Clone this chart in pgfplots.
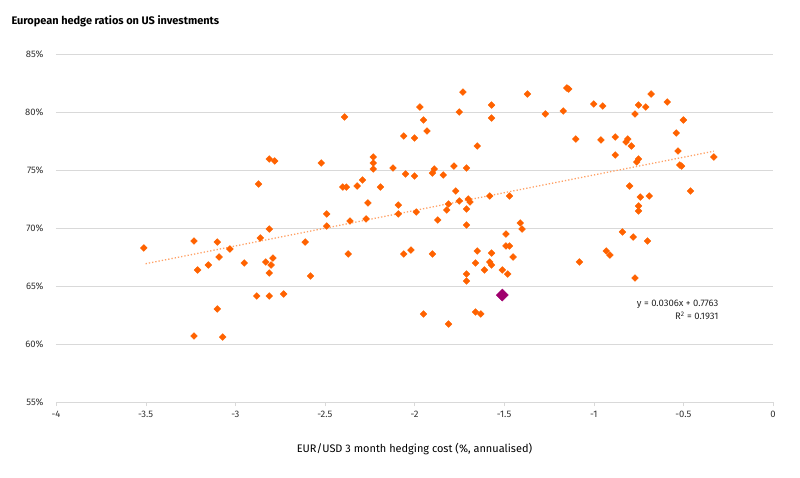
\documentclass[border=0pt]{standalone}
\usepackage{pgfplots}
\pgfplotsset{compat=1.18}
\usepackage{fontspec}
\setmainfont{Fira Sans}
\definecolor{ingor}{HTML}{FF6200}
\definecolor{ingpur}{HTML}{A0006E}
\definecolor{gridg}{HTML}{D9D9D9}
\begin{document}
\begin{tikzpicture}
\begin{axis}[
  scale only axis, width=717bp, height=348bp,
  xmin=-4, xmax=0, ymin=55, ymax=85,
  xtick={-4,-3.5,-3,-2.5,-2,-1.5,-1,-0.5,0},
  xticklabels={-4,-3.5,-3,-2.5,-2,-1.5,-1,-0.5,0},
  ytick={55,60,65,70,75,80,85},
  yticklabels={55\%,60\%,65\%,70\%,75\%,80\%,85\%},
  ymajorgrids, grid style={gridg, line width=0.8pt},
  axis line style={draw=none},
  axis x line*=bottom, axis y line*=left,
  x axis line style={draw=gridg,line width=0.8pt},
  y axis line style={draw=none},
  xtick style={draw=gridg}, ytick style={draw=none},
  tick align=outside, major tick length=4bp,
  ytick pos=left, xtick pos=bottom,
  tick label style={font=\fontsize{9.5}{11}\selectfont, text=black!80},
  yticklabel style={xshift=-5bp},
  xticklabel style={yshift=-2bp},
  xlabel={EUR/USD 3 month hedging cost (\%, annualised)},
  xlabel style={font=\fontsize{11}{13}\selectfont, yshift=-18bp},
  clip=false,
]
\addplot[ingor!60, line width=1.3pt, dotted] coordinates {(-3.5,66.92) (-0.33,76.62)};
\addplot[only marks, mark=square*, mark size=2.4pt, mark options={rotate=45}, color=ingor] coordinates {
(-3.51,68.28)(-3.23,68.88)(-3.21,66.38)(-3.23,60.69)(-3.15,66.81)(-3.10,68.79)(-3.09,67.50)(-3.10,63.02)(-3.07,60.60)(-3.03,68.19)
(-2.95,66.98)(-2.87,73.79)(-2.86,69.14)(-2.88,64.14)(-2.83,67.07)(-2.81,69.91)(-2.81,75.95)(-2.78,75.78)(-2.79,67.41)(-2.80,66.81)
(-2.81,66.12)(-2.81,64.14)(-2.73,64.31)(-2.61,68.79)(-2.58,65.86)(-2.52,75.60)(-2.49,71.21)(-2.49,70.17)(-2.40,73.53)(-2.38,73.53)
(-2.39,79.57)(-2.37,67.76)(-2.36,70.60)(-2.32,73.62)(-2.29,74.14)(-2.27,70.78)(-2.26,72.16)(-2.23,76.12)(-2.23,75.60)(-2.23,75.09)
(-2.19,73.53)(-2.12,75.17)(-2.09,71.98)(-2.09,71.21)(-2.06,67.76)(-2.06,77.93)(-2.05,74.66)(-2.02,68.10)(-2.00,77.76)(-2.00,74.48)
(-1.99,71.38)(-1.97,80.43)(-1.95,79.31)(-1.95,62.59)(-1.93,78.36)(-1.90,74.74)(-1.89,75.09)(-1.90,67.76)(-1.87,70.69)(-1.84,74.57)
(-1.82,71.55)(-1.81,72.07)(-1.81,61.72)(-1.78,75.34)(-1.77,73.19)(-1.75,80.00)(-1.75,72.33)(-1.73,81.72)(-1.71,70.26)(-1.71,75.17)
(-1.71,71.64)(-1.70,72.50)(-1.69,72.24)(-1.71,66.03)(-1.71,65.43)(-1.66,66.98)(-1.65,77.07)(-1.66,62.76)(-1.65,68.02)(-1.63,62.59)
(-1.61,66.38)(-1.58,67.07)(-1.57,66.81)(-1.57,67.84)(-1.58,72.76)(-1.57,80.60)(-1.57,79.48)(-1.51,66.38)(-1.48,66.03)(-1.49,69.48)
(-1.49,68.45)(-1.47,68.45)(-1.47,72.76)(-1.45,67.50)(-1.41,70.43)(-1.40,69.91)(-1.37,81.55)(-1.27,79.83)(-1.15,82.07)(-1.14,81.98)
(-1.17,80.09)(-1.10,77.67)(-1.08,67.07)(-1.00,80.69)(-0.95,80.52)(-0.96,77.59)(-0.93,68.02)(-0.91,67.67)(-0.88,77.84)(-0.88,76.29)
(-0.84,69.66)(-0.82,77.41)(-0.81,77.67)(-0.79,77.07)(-0.80,73.62)(-0.78,69.22)(-0.77,79.83)(-0.77,65.69)(-0.76,75.69)(-0.75,75.95)
(-0.75,80.60)(-0.75,71.90)(-0.75,71.47)(-0.74,72.67)(-0.71,80.43)(-0.70,68.88)(-0.69,72.76)(-0.68,81.55)(-0.59,80.86)(-0.54,78.19)
(-0.53,76.64)(-0.52,75.43)(-0.51,75.34)(-0.50,79.31)(-0.46,73.19)(-0.33,76.12)
};
\addplot[only marks, mark=square*, mark size=4.3pt, mark options={rotate=45}, color=ingpur] coordinates {(-1.51,64.22)};
\node[anchor=east, align=right, font=\fontsize{9.5}{13}\selectfont, text=black!85] at (axis cs:-0.285,62.9) {y = 0.0306x + 0.7763\\R\textsuperscript{2} = 0.1931};
\node[anchor=west, font=\bfseries\fontsize{11}{13}\selectfont] at ([xshift=-48bp,yshift=33bp]rel axis cs:0,1) {European hedge ratios on US investments};
\path ([xshift=-56bp,yshift=-76bp]rel axis cs:0,0) rectangle ++(800bp,478bp);
\end{axis}
\end{tikzpicture}
\end{document}
